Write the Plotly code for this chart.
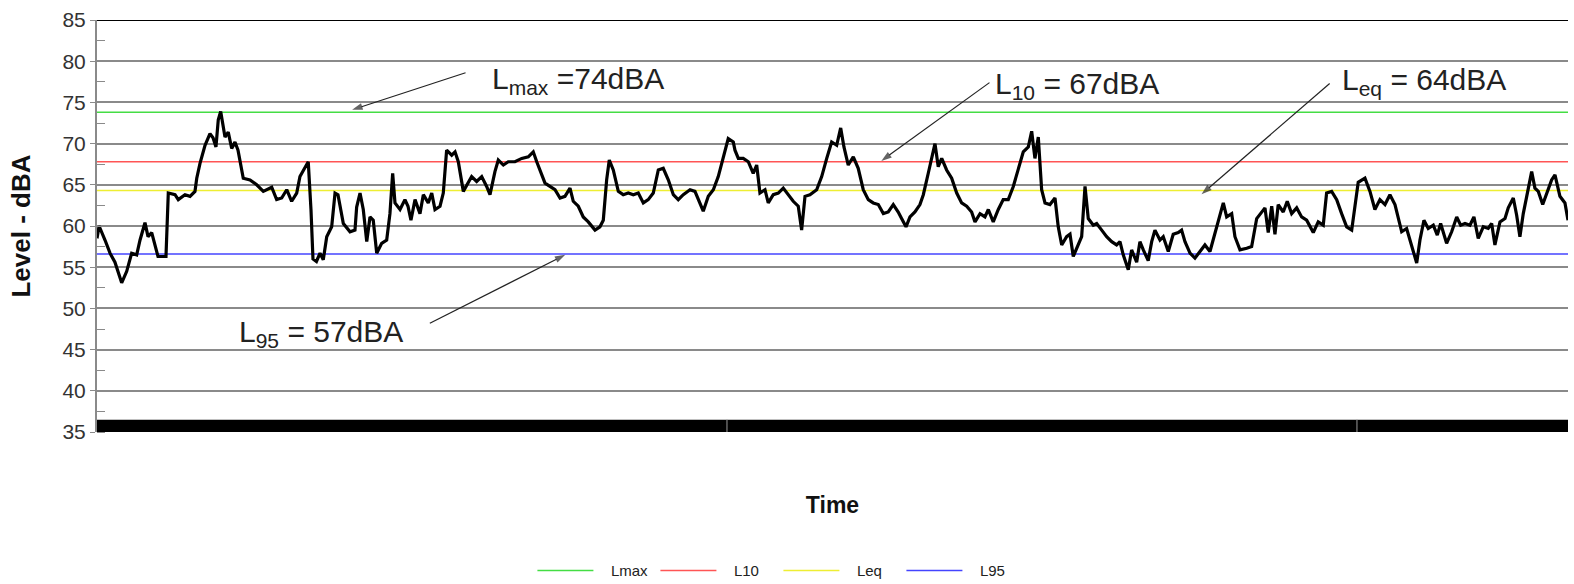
import plotly.graph_objects as go

# elapsed time (minutes) and measured level (dBA)
time_min = [0.0, 0.2, 0.76, 1.24, 1.71, 2.35, 2.83, 3.30, 3.78, 4.10, 4.57, 4.86, 5.21, 5.52, 5.81, 6.57,
            6.79, 7.43, 7.74, 8.38, 8.86, 9.33, 9.50, 9.81, 10.29, 10.76, 11.05, 11.33, 11.55, 11.78,
            12.03, 12.19, 12.50, 12.83, 13.14, 13.43, 13.93, 14.57, 15.21, 15.84, 16.64, 17.11, 17.59,
            18.07, 18.54, 19.02, 19.33, 20.12, 20.38, 20.57, 20.90, 21.24, 21.55, 21.88, 22.35, 22.67,
            22.95, 23.46, 24.10, 24.57, 24.73, 25.05, 25.36, 25.69, 26.00, 26.31, 26.64, 27.11, 27.59,
            27.90, 28.16, 28.38, 28.86, 29.33, 29.62, 29.90, 30.29, 30.76, 31.08, 31.55, 31.88, 32.19,
            32.67, 32.98, 33.30, 33.78, 34.10, 34.41, 34.89, 35.36, 35.68, 36.16, 36.64, 37.11, 37.43,
            37.90, 38.22, 38.70, 39.17, 39.81, 40.45, 41.08, 41.55, 41.88, 42.35, 42.67, 43.14, 43.62,
            44.10, 44.57, 45.05, 45.36, 45.84, 46.31, 46.79, 47.43, 47.90, 48.22, 48.54, 48.79, 49.17,
            49.65, 50.12, 50.60, 51.08, 51.55, 52.03, 52.50, 52.98, 53.46, 53.93, 54.41, 54.89, 55.36,
            55.84, 56.48, 56.95, 57.43, 57.74, 58.22, 58.70, 59.17, 59.65, 60.12, 60.60, 60.76, 61.08,
            61.55, 62.03, 62.50, 62.83, 63.14, 63.62, 63.93, 64.41, 64.89, 65.36, 65.84, 66.31, 66.79,
            67.11, 67.43, 67.90, 68.54, 69.02, 69.50, 69.97, 70.45, 70.83, 71.14, 71.55, 72.03, 72.50,
            72.98, 73.46, 73.93, 74.41, 74.89, 75.36, 75.84, 76.31, 76.63, 77.05, 77.43, 77.90, 78.38,
            78.70, 79.17, 79.50, 79.81, 80.12, 80.45, 80.92, 81.40, 81.88, 82.35, 82.83, 83.30, 83.62,
            84.10, 84.57, 84.89, 85.36, 85.84, 86.31, 86.79, 87.27, 87.74, 88.22, 88.70, 89.02, 89.33,
            89.65, 89.97, 90.29, 90.76, 91.24, 91.55, 91.88, 92.35, 92.67, 92.98, 93.46, 93.78, 94.10,
            94.41, 94.89, 95.21, 95.69, 96.16, 96.64, 97.11, 97.43, 97.74, 98.22, 98.54, 99.02, 99.33,
            99.65, 100.12, 100.45, 100.76, 101.24, 101.55, 102.03, 102.50, 102.98, 103.30, 103.62,
            104.10, 104.57, 105.05, 105.52, 106.00, 106.31, 106.79, 107.27, 107.59, 108.07, 108.38,
            108.86, 109.50, 109.97, 110.45, 110.93, 111.24, 111.55, 111.88, 112.19, 112.50, 112.98,
            113.36, 113.78, 114.26, 114.73, 115.21, 115.84, 116.31, 116.79, 117.11, 117.59, 118.07,
            118.54, 119.02, 119.50, 119.81, 120.12, 120.76, 121.24, 121.71, 122.19, 122.67, 123.14,
            123.62, 123.93, 124.26, 124.73, 125.21, 125.69, 126.00, 126.38, 126.79, 127.27, 127.65,
            127.97, 128.54, 129.02, 129.50, 129.88, 130.29, 130.76, 131.14, 131.55, 132.03, 132.50,
            132.83, 133.14, 133.62, 134.10, 134.41, 134.89, 135.21, 135.52, 135.84, 136.31, 136.64,
            136.95, 137.27, 137.69, 138.07, 138.54, 138.86, 139.33, 139.81, 140.10]

level_dba = [58.5, 60.0, 58.3, 56.7, 55.6, 53.1, 54.5, 56.7, 56.5, 58.3, 60.4, 58.7, 59.2, 57.5, 56.3, 56.3,
             64.0, 63.8, 63.2, 63.8, 63.6, 64.2, 65.8, 67.6, 69.8, 71.2, 70.7, 69.6, 72.9, 73.9,
             71.8, 70.8, 71.4, 69.4, 70.2, 69.2, 65.8, 65.6, 65.0, 64.2, 64.7, 63.2, 63.4,
             64.4, 63.0, 64.0, 66.0, 67.8, 62.0, 56.0, 55.7, 56.7, 55.9, 58.7, 59.9, 64.0,
             63.8, 60.3, 59.3, 59.5, 62.3, 64.0, 62.0, 58.1, 61.1, 60.7, 56.7, 57.9, 58.3,
             61.5, 66.4, 62.8, 62.0, 63.2, 62.4, 60.7, 63.2, 61.5, 63.8, 62.8, 64.0, 62.0,
             62.4, 64.0, 69.2, 68.6, 69.0, 67.8, 64.2, 65.2, 66.0, 65.4, 66.0, 64.8, 63.8,
             66.6, 68.0, 67.4, 67.8, 67.8, 68.2, 68.4, 69.0, 67.8, 66.4, 65.2, 64.8, 64.4,
             63.4, 63.6, 64.6, 63.0, 62.4, 61.1, 60.5, 59.5, 59.9, 60.7, 65.6, 68.0, 66.8,
             64.2, 63.8, 64.0, 63.8, 64.0, 62.8, 63.2, 64.0, 66.8, 67.0, 65.6, 63.8, 63.2,
             63.8, 64.4, 64.2, 62.8, 61.8, 63.6, 64.4, 66.0, 68.4, 70.6, 70.2, 69.2, 68.2,
             68.2, 67.8, 66.4, 67.4, 64.0, 64.4, 62.8, 63.8, 64.0, 64.6, 63.8, 63.0, 62.4,
             59.5, 63.6, 63.8, 64.4, 66.0, 68.2, 70.2, 69.8, 71.9, 69.6, 67.4, 68.4, 67.0,
             64.4, 63.2, 62.8, 62.6, 61.5, 61.7, 62.6, 61.7, 60.9, 59.9, 61.1, 61.7, 62.6,
             63.8, 66.4, 68.4, 70.0, 67.2, 68.2, 66.8, 65.8, 64.0, 62.8, 62.4, 61.7, 60.5,
             61.5, 61.1, 62.0, 60.5, 62.0, 63.2, 63.2, 64.8, 66.8, 69.0, 69.6, 71.5, 68.2,
             70.8, 64.4, 62.8, 62.6, 63.4, 59.9, 57.7, 58.7, 59.0, 56.3, 57.9, 58.7, 64.8,
             60.9, 60.1, 60.3, 59.5, 58.7, 58.1, 57.7, 58.1, 56.5, 54.7, 57.1, 55.6, 58.1,
             57.1, 55.8, 58.1, 59.5, 58.3, 58.7, 56.9, 59.0, 59.2, 59.5, 58.1,
             56.7, 56.1, 56.9, 57.7, 56.9, 58.3, 60.3, 62.8, 61.1, 61.5, 58.7,
             57.1, 57.3, 57.5, 60.9, 61.7, 62.2, 59.2, 62.4, 59.0, 62.6, 61.7,
             63.0, 61.5, 62.2, 61.1, 60.7, 59.2, 60.5, 60.1, 64.0, 64.2, 63.2,
             61.5, 59.9, 59.5, 62.5, 65.3, 65.8, 64.2, 62.0, 63.2, 62.6, 63.8,
             62.6, 61.1, 59.3, 59.7, 57.5, 55.5, 58.3, 60.7, 59.7, 60.1, 58.9,
             60.3, 57.9, 59.3, 61.1, 60.1, 60.3, 60.1, 61.1, 58.5, 59.9, 59.7,
             60.3, 57.7, 60.5, 60.9, 62.2, 63.4, 61.3, 58.7, 61.5, 64.8, 66.6,
             64.6, 64.2, 62.6, 64.0, 65.6, 66.2, 63.6, 62.8, 60.7]

# statistical descriptors
stat_names = ["Lmax", "L10", "Leq", "L95"]
stat_values = [73.8, 67.8, 64.3, 56.6]
stat_colors = ["#44dd44", "#ff5555", "#eeee33", "#4444ff"]
stat_labels = ["L<sub>max</sub> =74dBA", "L<sub>10</sub> = 67dBA", "L<sub>eq</sub> = 64dBA", "L<sub>95</sub> = 57dBA"]

# callout label positions (time, dBA), arrow tails and arrow tips
label_pos = [(37.4, 77.7), (85.3, 77.1), (118.4, 77.5), (13.3, 46.9)]
arrow_tails = [(35.1, 78.6), (85.0, 77.4), (117.4, 77.3), (31.7, 48.2)]
arrow_tips = [(24.3, 74.1), (74.7, 67.9), (105.2, 63.85), (44.6, 56.5)]

# axis
y_min, y_max, y_step = 35, 85, 5
t_end = 140.1
hour_marks = [60, 120]

FONT = "Liberation Sans, Arial, sans-serif"

fig = go.Figure()
for name, val, col in zip(stat_names, stat_values, stat_colors):
    fig.add_trace(go.Scatter(x=[0, t_end], y=[val, val], mode="lines",
                             name="\u00a0\u00a0\u00a0" + name,
                             line=dict(color=col, width=1.5), hoverinfo="skip"))

fig.add_trace(go.Scatter(x=time_min, y=level_dba, mode="lines", name="Level",
                         line=dict(color="black", width=3.2), showlegend=False))

# callout arrows
for (x0, y0), (x1, y1) in zip(arrow_tails, arrow_tips):
    fig.add_trace(go.Scatter(x=[x0, x1], y=[y0, y1], mode="lines+markers",
                             line=dict(color="#222", width=1.2),
                             marker=dict(symbol="arrow", size=[0, 11], angleref="previous",
                                         color="#222", line=dict(width=0)),
                             showlegend=False, hoverinfo="skip"))

annotations = []
for (lx, ly), txt in zip(label_pos, stat_labels):
    annotations.append(dict(x=lx, y=ly, xref="x", yref="y", text=txt, showarrow=False,
                            xanchor="left", yanchor="middle",
                            font=dict(family=FONT, size=30, color="#222")))

shapes = [
    dict(type="rect", xref="paper", yref="y", x0=0, x1=1, y0=y_min, y1=y_min + 1.5,
         fillcolor="black", line=dict(width=0), layer="above"),
    dict(type="line", xref="paper", yref="y", x0=0, x1=1, y0=y_max, y1=y_max,
         line=dict(color="black", width=2), layer="above"),
]
for hm in hour_marks:
    shapes.append(dict(type="line", xref="x", yref="y", x0=hm, x1=hm, y0=y_min, y1=y_min + 1.5,
                       line=dict(color="#9a9a9a", width=1), layer="above"))

fig.update_layout(
    width=1574, height=584,
    margin=dict(l=97, r=6, t=20, b=152, autoexpand=False),
    paper_bgcolor="white", plot_bgcolor="white",
    font=dict(family=FONT, color="#222"),
    xaxis=dict(range=[0, t_end], showticklabels=False, showgrid=False, zeroline=False,
               showline=False, ticks="", automargin=False,
               title=dict(text="<b>Time</b>", font=dict(size=23, color="#111"), standoff=64)),
    yaxis=dict(range=[y_min, y_max], dtick=y_step, tick0=y_min, showgrid=True,
               gridcolor="#8a8a8a", gridwidth=2, zeroline=False, automargin=False,
               showline=True, linecolor="#8a8a8a", linewidth=2,
               ticks="outside", ticklen=5, tickcolor="#8a8a8a",
               minor=dict(dtick=2.5, ticks="inside", ticklen=8, tickcolor="#8a8a8a", showgrid=False),
               tickfont=dict(size=21, color="#333"),
               title=dict(text="<b>Level - dBA</b>", font=dict(size=26, color="#111"), standoff=24)),
    legend=dict(orientation="h", x=0.296, xanchor="left", y=-0.337, yanchor="middle",
                font=dict(size=15, color="#222"), entrywidth=52, entrywidthmode="pixels",
                itemwidth=56, bgcolor="rgba(0,0,0,0)"),
    annotations=annotations,
    shapes=shapes,
)

fig.write_html("out.html")
